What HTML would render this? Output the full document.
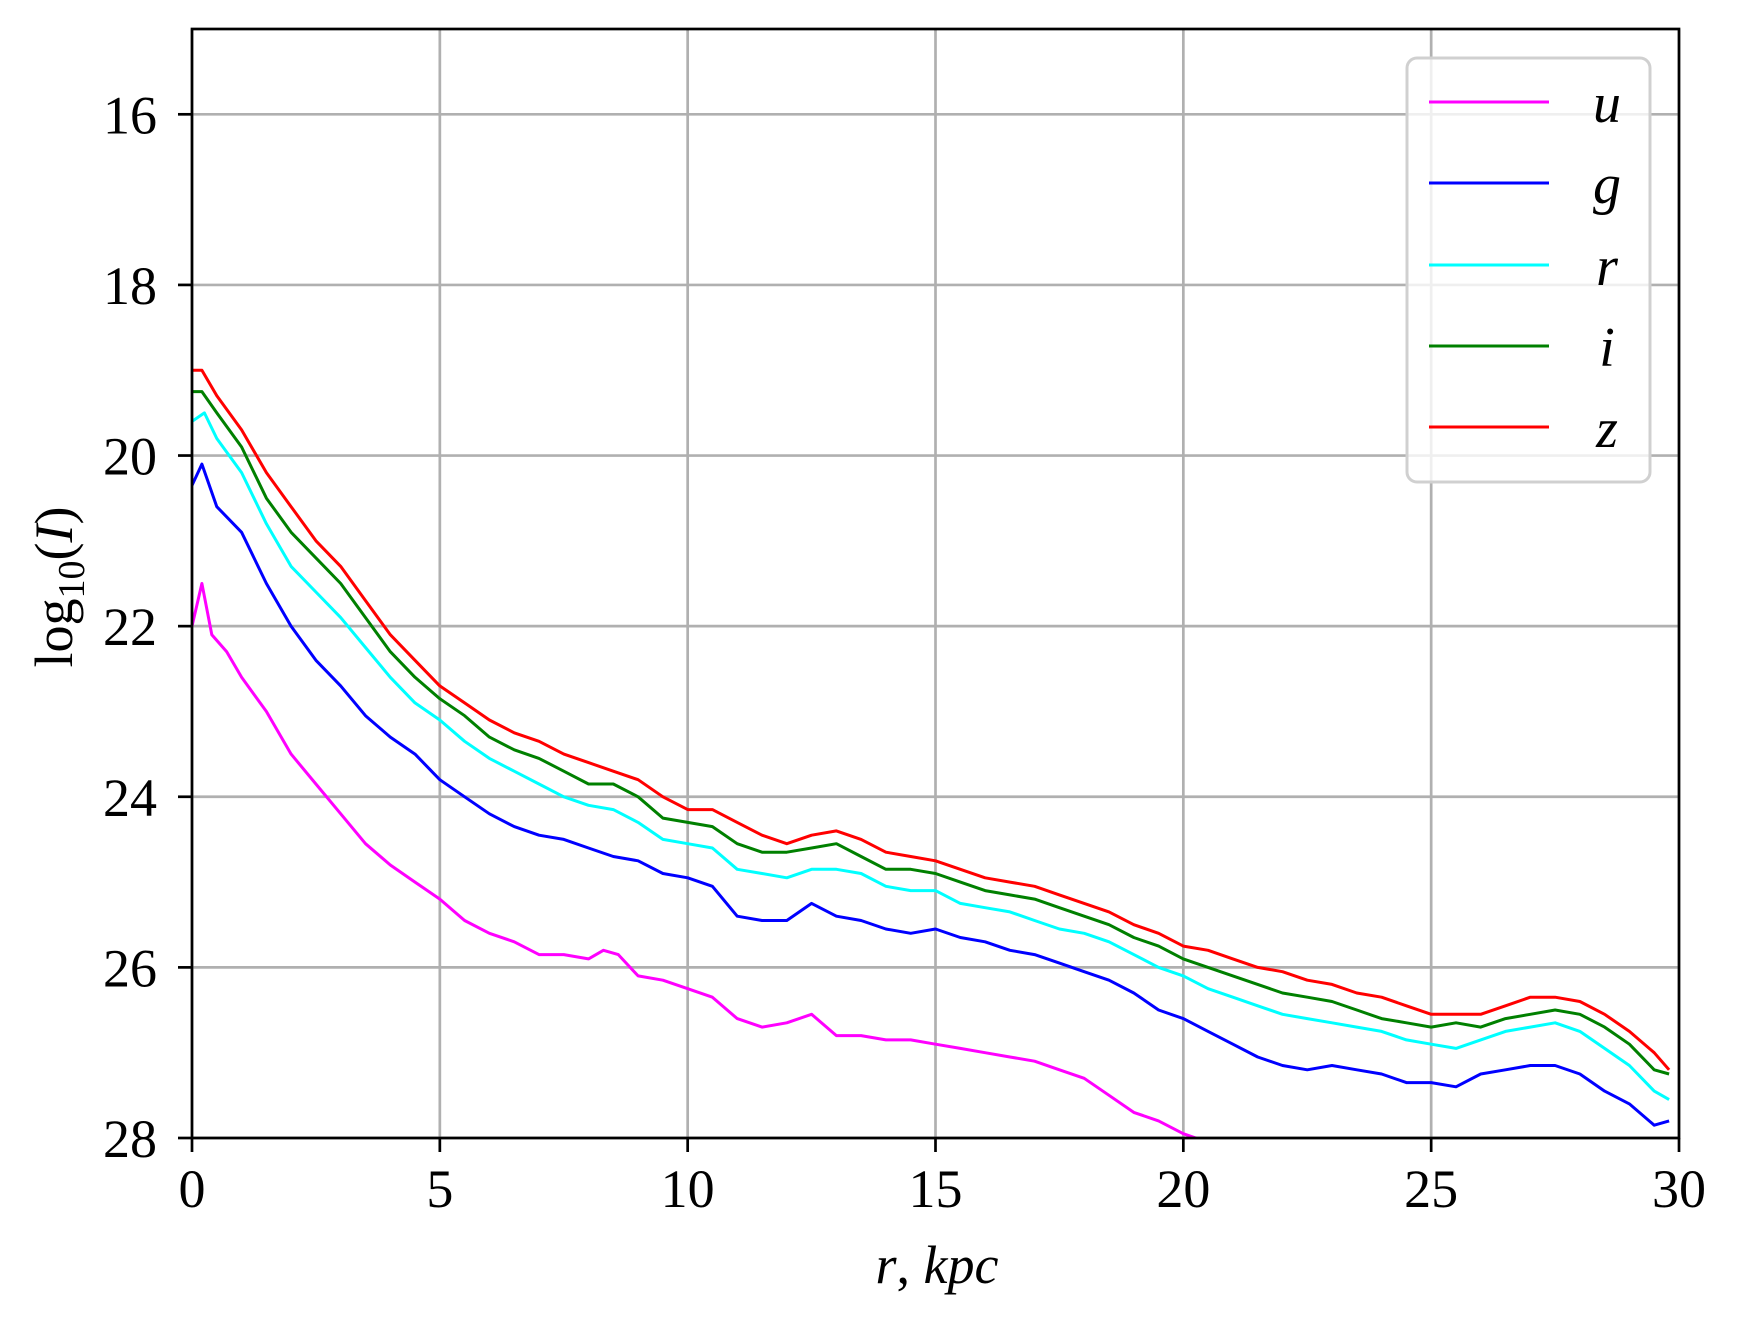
<!DOCTYPE html>
<html><head><meta charset="utf-8"><style>
html,body{margin:0;padding:0;background:#fff;}
svg text{font-family:"Liberation Serif","DejaVu Serif",serif;fill:#000;}
</style></head><body>
<svg id="chart" width="1737" height="1317" viewBox="0 0 1737 1317" xmlns="http://www.w3.org/2000/svg">
<rect width="1737" height="1317" fill="#fff"/>
<g id="grid"></g>
<g id="series"></g>
<g id="axes"></g>
<g id="legend"></g>
</svg>
<script>
const xTicks=[0,5,10,15,20,25,30];
const yTicks=[16,18,20,22,24,26,28];
const bandNames=['u','g','r','i','z'];
const bandColors=['#ff00ff','#0000ff','#00ffff','#008000','#ff0000'];
const uX=[0,0.2,0.4,0.7,1,1.5,2,2.5,3,3.5,4,4.5,5,5.5,6,6.5,7,7.5,8,8.3,8.6,9,9.5,10,10.5,11,11.5,12,12.5,13,13.5,14,14.5,15,15.5,16,16.5,17,17.5,18,18.5,19,19.5,20,20.5];
const uY=[22.0,21.5,22.1,22.3,22.6,23.0,23.5,23.85,24.2,24.55,24.8,25.0,25.2,25.45,25.6,25.7,25.85,25.85,25.9,25.8,25.85,26.1,26.15,26.25,26.35,26.6,26.7,26.65,26.55,26.8,26.8,26.85,26.85,26.9,26.95,27.0,27.05,27.1,27.2,27.3,27.5,27.7,27.8,27.95,28.05];
const gX=[0,0.2,0.5,1,1.5,2,2.5,3,3.5,4,4.5,5,5.5,6,6.5,7,7.5,8,8.5,9,9.5,10,10.5,11,11.5,12,12.5,13,13.5,14,14.5,15,15.5,16,16.5,17,17.5,18,18.5,19,19.5,20,20.5,21,21.5,22,22.5,23,23.5,24,24.5,25,25.5,26,26.5,27,27.5,28,28.5,29,29.5,29.8];
const gY=[20.35,20.1,20.6,20.9,21.5,22.0,22.4,22.7,23.05,23.3,23.5,23.8,24.0,24.2,24.35,24.45,24.5,24.6,24.7,24.75,24.9,24.95,25.05,25.4,25.45,25.45,25.25,25.4,25.45,25.55,25.6,25.55,25.65,25.7,25.8,25.85,25.95,26.05,26.15,26.3,26.5,26.6,26.75,26.9,27.05,27.15,27.2,27.15,27.2,27.25,27.35,27.35,27.4,27.25,27.2,27.15,27.15,27.25,27.45,27.6,27.85,27.8];
const rX=[0,0.25,0.5,1,1.5,2,2.5,3,3.5,4,4.5,5,5.5,6,6.5,7,7.5,8,8.5,9,9.5,10,10.5,11,11.5,12,12.5,13,13.5,14,14.5,15,15.5,16,16.5,17,17.5,18,18.5,19,19.5,20,20.5,21,21.5,22,22.5,23,23.5,24,24.5,25,25.5,26,26.5,27,27.5,28,28.5,29,29.5,29.8];
const rY=[19.6,19.5,19.8,20.2,20.8,21.3,21.6,21.9,22.25,22.6,22.9,23.1,23.35,23.55,23.7,23.85,24.0,24.1,24.15,24.3,24.5,24.55,24.6,24.85,24.9,24.95,24.85,24.85,24.9,25.05,25.1,25.1,25.25,25.3,25.35,25.45,25.55,25.6,25.7,25.85,26.0,26.1,26.25,26.35,26.45,26.55,26.6,26.65,26.7,26.75,26.85,26.9,26.95,26.85,26.75,26.7,26.65,26.75,26.95,27.15,27.45,27.55];
const iX=[0,0.2,0.5,1,1.5,2,2.5,3,3.5,4,4.5,5,5.5,6,6.5,7,7.5,8,8.5,9,9.5,10,10.5,11,11.5,12,12.5,13,13.5,14,14.5,15,15.5,16,16.5,17,17.5,18,18.5,19,19.5,20,20.5,21,21.5,22,22.5,23,23.5,24,24.5,25,25.5,26,26.5,27,27.5,28,28.5,29,29.5,29.8];
const iY=[19.25,19.25,19.5,19.9,20.5,20.9,21.2,21.5,21.9,22.3,22.6,22.85,23.05,23.3,23.45,23.55,23.7,23.85,23.85,24.0,24.25,24.3,24.35,24.55,24.65,24.65,24.6,24.55,24.7,24.85,24.85,24.9,25.0,25.1,25.15,25.2,25.3,25.4,25.5,25.65,25.75,25.9,26.0,26.1,26.2,26.3,26.35,26.4,26.5,26.6,26.65,26.7,26.65,26.7,26.6,26.55,26.5,26.55,26.7,26.9,27.2,27.25];
const zX=[0,0.2,0.5,1,1.5,2,2.5,3,3.5,4,4.5,5,5.5,6,6.5,7,7.5,8,8.5,9,9.5,10,10.5,11,11.5,12,12.5,13,13.5,14,14.5,15,15.5,16,16.5,17,17.5,18,18.5,19,19.5,20,20.5,21,21.5,22,22.5,23,23.5,24,24.5,25,25.5,26,26.5,27,27.5,28,28.5,29,29.5,29.8];
const zY=[19.0,19.0,19.3,19.7,20.2,20.6,21.0,21.3,21.7,22.1,22.4,22.7,22.9,23.1,23.25,23.35,23.5,23.6,23.7,23.8,24.0,24.15,24.15,24.3,24.45,24.55,24.45,24.4,24.5,24.65,24.7,24.75,24.85,24.95,25.0,25.05,25.15,25.25,25.35,25.5,25.6,25.75,25.8,25.9,26.0,26.05,26.15,26.2,26.3,26.35,26.45,26.55,26.55,26.55,26.45,26.35,26.35,26.4,26.55,26.75,27.0,27.2];

const L=192,R=1679,T=29,B=1138;
const xScale=v=>L+(v-0)/(30-0)*(R-L);
const yScale=v=>T+(v-15)/(28-15)*(B-T);
const NS='http://www.w3.org/2000/svg';
function mk(tag,attrs,parent){const e=document.createElementNS(NS,tag);for(const k in attrs)e.setAttribute(k,attrs[k]);parent.appendChild(e);return e;}
const grid=document.getElementById('grid'),axes=document.getElementById('axes'),series=document.getElementById('series'),legend=document.getElementById('legend');

xTicks.forEach(t=>{const x=xScale(t);
 const g=mk('line',{x1:x,x2:x,y1:T,y2:B,stroke:'#b0b0b0','stroke-width':2.7},grid);
 
 
 const tk=mk('line',{x1:x,x2:x,y1:B,y2:B+14,stroke:'#000','stroke-width':2.7},axes);
 
 
 const tx=mk('text',{x:x,y:B+69,'text-anchor':'middle','font-size':54},axes);tx.textContent=t;
 
 
});
yTicks.forEach(t=>{const y=yScale(t);
 const g=mk('line',{x1:L,x2:R,y1:y,y2:y,stroke:'#b0b0b0','stroke-width':2.7},grid);
 
 
 const tk=mk('line',{x1:L-14,x2:L,y1:y,y2:y,stroke:'#000','stroke-width':2.7},axes);
 
 
 const tx=mk('text',{x:157,y:y+19,'text-anchor':'end','font-size':54},axes);tx.textContent=t;
 
 
});
const cp=mk('clipPath',{id:'clip'},series);mk('rect',{x:L,y:T,width:R-L,height:B-T},cp);
const allX=[uX,gX,rX,iX,zX],allY=[uY,gY,rY,iY,zY];
allX.forEach((xs,k)=>{
 const pts=xs.map((x,j)=>xScale(x).toFixed(1)+','+yScale(allY[k][j]).toFixed(1)).join(' ');
 const p=mk('polyline',{points:pts,fill:'none',stroke:bandColors[k],'stroke-width':3,'stroke-linejoin':'round','clip-path':'url(#clip)'},series);
 
 
});
const frame=mk('rect',{x:L,y:T,width:R-L,height:B-T,fill:'none',stroke:'#000','stroke-width':2.7},axes);


const xl=mk('text',{x:937,y:1283,'text-anchor':'middle','font-size':54,'font-style':'italic'},axes);
xl.innerHTML='r<tspan font-style="normal">,</tspan> kpc';


const yl=mk('text',{x:0,y:0,'text-anchor':'middle','font-size':54,transform:'translate(72,587) rotate(-90)'},axes);
yl.innerHTML='log<tspan font-size="38" dy="12">10</tspan><tspan dy="-12">(</tspan><tspan font-style="italic">I</tspan>)';



const box=mk('rect',{x:1407,y:58,width:243,height:424,rx:10,fill:'#fff','fill-opacity':0.8,stroke:'#d0d0d0','stroke-width':3},legend);


const ly=[102,183,265,346,427];
bandNames.forEach((n,k)=>{
 const ln=mk('line',{x1:1429,x2:1549,y1:ly[k],y2:ly[k],stroke:bandColors[k],'stroke-width':3},legend);
 
 
 const t=mk('text',{x:1607,y:ly[k]+20,'text-anchor':'middle','font-size':56,'font-style':'italic'},legend);t.textContent=n;
 
 
});
</script>
</body></html>
